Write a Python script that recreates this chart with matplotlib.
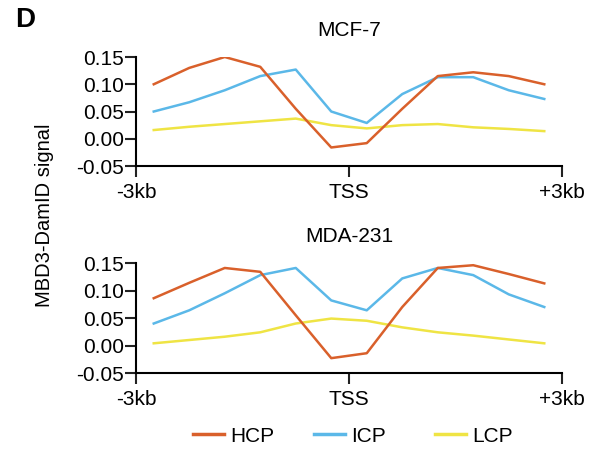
import matplotlib
matplotlib.use("Agg")
import matplotlib.pyplot as plt

plt.rcParams['font.family'] = ['Liberation Sans', 'DejaVu Sans']

# bin centres, kb from TSS
pos = [-2.75, -2.25, -1.75, -1.25, -0.75, -0.25, 0.25, 0.75, 1.25, 1.75, 2.25, 2.75]

mcf7_hcp = [0.100, 0.130, 0.150, 0.132, 0.055, -0.016, -0.008, 0.055, 0.115, 0.122, 0.115, 0.100]
mcf7_icp = [0.050, 0.067, 0.089, 0.115, 0.127, 0.050, 0.029, 0.082, 0.113, 0.113, 0.089, 0.073]
mcf7_lcp = [0.016, 0.022, 0.027, 0.032, 0.037, 0.025, 0.019, 0.025, 0.027, 0.021, 0.018, 0.014]

mda_hcp = [0.086, 0.114, 0.141, 0.134, 0.055, -0.023, -0.014, 0.070, 0.141, 0.146, 0.130, 0.113]
mda_icp = [0.040, 0.064, 0.095, 0.128, 0.141, 0.082, 0.064, 0.122, 0.141, 0.128, 0.093, 0.070]
mda_lcp = [0.004, 0.010, 0.016, 0.024, 0.040, 0.049, 0.045, 0.033, 0.024, 0.018, 0.011, 0.004]

titles = ["MCF-7", "MDA-231"]
xticks = [-3, 0, 3]
xlabels = ["-3kb", "TSS", "+3kb"]
yticks = [-0.05, 0.00, 0.05, 0.10, 0.15]
groups = ["HCP", "ICP", "LCP"]

colors = {"HCP": "#D9602B", "ICP": "#5BB8E8", "LCP": "#EFE444"}

fig = plt.figure(figsize=(5.97, 4.5), dpi=100)
ax1 = fig.add_axes([0.2278, 0.6311, 0.7136, 0.2422])
ax2 = fig.add_axes([0.2278, 0.1711, 0.7136, 0.2444])

data = [(mcf7_hcp, mcf7_icp, mcf7_lcp), (mda_hcp, mda_icp, mda_lcp)]
for ax, title, (h, i, l) in zip([ax1, ax2], titles, data):
    ax.plot(pos, l, color=colors["LCP"], lw=1.8, label="LCP")
    ax.plot(pos, i, color=colors["ICP"], lw=1.8, label="ICP")
    ax.plot(pos, h, color=colors["HCP"], lw=1.8, label="HCP")
    ax.set_xlim(-3, 3)
    ax.set_ylim(-0.05, 0.15)
    ax.set_xticks(xticks)
    ax.set_xticklabels(xlabels)
    ax.set_yticks(yticks)
    ax.set_yticklabels(["%.2f" % v for v in yticks])
    ax.spines['top'].set_visible(False)
    ax.spines['right'].set_visible(False)
    ax.spines['left'].set_linewidth(1.5)
    ax.spines['bottom'].set_linewidth(1.5)
    ax.tick_params(labelsize=15, width=1.5, length=8, color='#222222')
    ax.tick_params(axis='x', pad=4)
    ax.tick_params(axis='y', pad=0.5)
    ax.set_title(title, fontsize=15, pad=15)
    ax.patch.set_visible(False)

fig.text(0.074, 0.521, "MBD3-DamID signal", rotation=90, fontsize=14.5,
         ha='center', va='center')
fig.text(0.025, 0.955, "D", fontsize=20, fontweight='bold', ha='left', va='center')

# legend: one entry per slot so the columns are evenly spaced
for k, x0 in zip(groups, [0.323, 0.526, 0.729]):
    hnd = plt.Line2D([], [], color=colors[k], lw=2.5)
    fig.legend([hnd], [k], loc='center left', bbox_to_anchor=(x0, 0.031),
               frameon=False, fontsize=15, handlelength=1.5, handletextpad=0.3,
               borderpad=0, borderaxespad=0)

fig.savefig("out.png", dpi=100)
